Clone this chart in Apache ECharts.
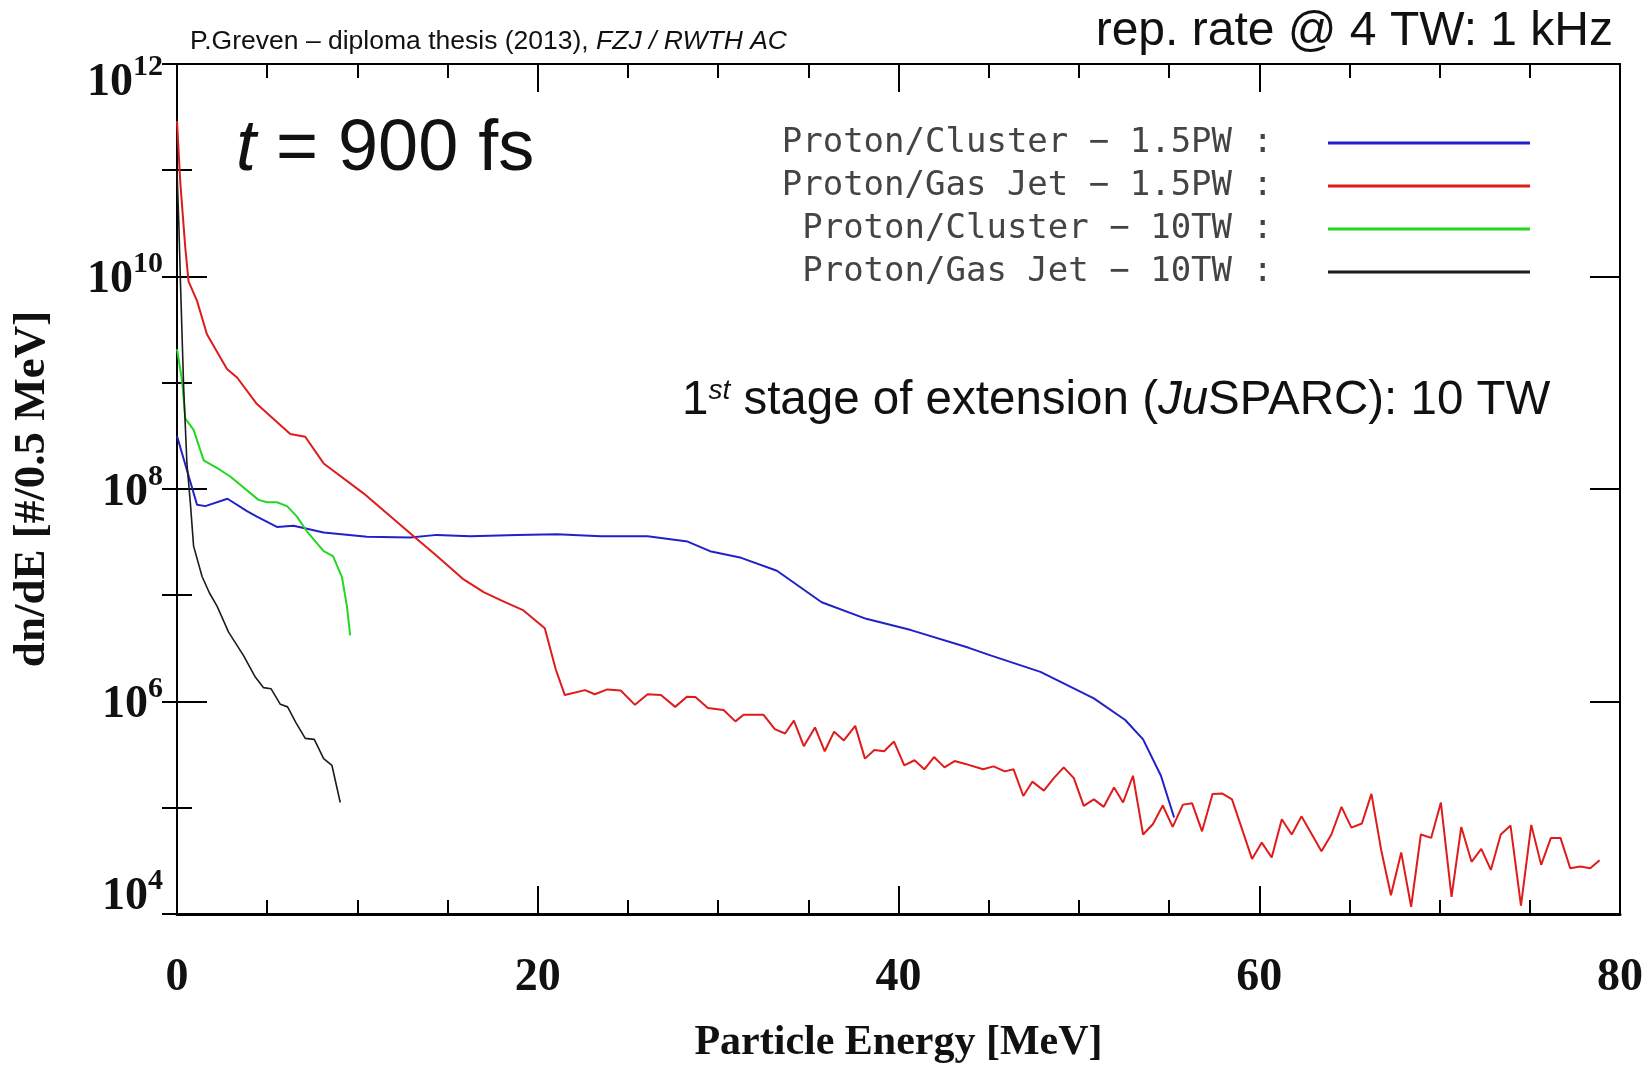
<!DOCTYPE html>
<html>
<head>
<meta charset="utf-8">
<title>Proton spectra, t = 900 fs</title>
<script src="https://cdn.jsdelivr.net/npm/echarts@6/dist/echarts.min.js"></script>
<style>
  html, body { margin: 0; padding: 0; background: #fff; }
  #chart { width: 1651px; height: 1069px; }
</style>
</head>
<body>
<div id="chart"></div>
<script>
// Proton energy spectra dn/dE [#/0.5 MeV] versus particle energy [MeV]

// Proton/Cluster – 1.5PW
const clusterPW_E = [0, 1.11, 1.57, 2.8, 3.88, 4.43, 5.54, 6.46, 8.13, 10.53, 12.93, 14.41, 16.26, 18.85,
  21.06, 23.5, 26.09, 28.31, 29.55, 31.28, 33.26, 35.74, 38.21, 40.69, 43.9, 45.14, 47.87, 50.83, 52.57,
  53.56, 54.55, 55.28];
const clusterPW_N = [3.16e8, 7.1e7, 6.9e7, 8.1e7, 6.2e7, 5.5e7, 4.4e7, 4.5e7, 3.9e7, 3.55e7, 3.5e7, 3.7e7,
  3.6e7, 3.7e7, 3.75e7, 3.6e7, 3.6e7, 3.2e7, 2.6e7, 2.25e7, 1.7e7, 8.6e6, 6.0e6, 4.7e6, 3.2e6, 2.7e6,
  1.9e6, 1.07e6, 6.7e5, 4.4e5, 2.0e5, 8.1e4];

// Proton/Gas Jet – 1.5PW
const gasJetPW_E = [0, 0.18, 0.46, 0.64, 1.11, 1.66, 2.77, 3.33, 4.43, 6.28, 7.11, 8.13, 10.34, 13.12, 14.41,
  15.89, 17.0, 18.0, 19.21, 20.39, 21.0, 21.5, 22.62, 23.16, 23.86, 24.6, 25.39, 26.09, 26.83, 27.62, 28.27,
  28.74, 29.43, 30.3, 30.96, 31.41, 32.52, 33.14, 33.71, 34.2, 34.75, 35.37, 35.91, 36.43, 36.97, 37.6,
  38.14, 38.66, 39.2, 39.75, 40.32, 40.89, 41.43, 41.97, 42.55, 43.11, 43.66, 44.69, 45.27, 45.89, 46.38,
  46.92, 47.42, 48.06, 48.61, 49.16, 49.72, 50.27, 50.83, 51.38, 51.95, 52.45, 53.0, 53.56, 54.1, 54.65,
  55.2, 55.77, 56.28, 56.83, 57.41, 57.96, 58.49, 59.6, 60.14, 60.69, 61.25, 61.8, 62.34, 63.45, 64.0,
  64.56, 65.11, 65.69, 66.22, 66.76, 67.3, 67.87, 68.42, 68.96, 69.53, 70.07, 70.66, 71.2, 71.77, 72.31,
  72.84, 73.39, 73.93, 74.51, 75.08, 75.63, 76.17, 76.7, 77.24, 77.8, 78.35, 78.87];
const gasJetPW_N = [2.9e11, 7.8e10, 1.86e10, 9.0e9, 5.9e9, 2.86e9, 1.35e9, 1.12e9, 6.3e8, 3.3e8, 3.1e8,
  1.74e8, 9.1e7, 3.6e7, 2.34e7, 1.41e7, 1.07e7, 8.9e6, 7.2e6, 4.9e6, 2.0e6, 1.15e6, 1.28e6, 1.17e6, 1.3e6,
  1.27e6, 9.3e5, 1.17e6, 1.15e6, 8.9e5, 1.11e6, 1.1e6, 8.7e5, 8.3e5, 6.5e5, 7.5e5, 7.5e5, 5.5e5, 5.0e5,
  6.6e5, 3.8e5, 5.7e5, 3.4e5, 5.2e5, 4.3e5, 5.9e5, 2.9e5, 3.5e5, 3.4e5, 4.2e5, 2.5e5, 2.8e5, 2.3e5,
  3.0e5, 2.4e5, 2.75e5, 2.6e5, 2.3e5, 2.45e5, 2.2e5, 2.3e5, 1.29e5, 1.76e5, 1.45e5, 1.9e5, 2.4e5, 1.9e5,
  1.04e5, 1.2e5, 1.02e5, 1.55e5, 1.12e5, 2.0e5, 5.6e4, 7.0e4, 1.05e5, 6.6e4, 1.07e5, 1.1e5, 6.0e4,
  1.35e5, 1.36e5, 1.2e5, 3.3e4, 4.7e4, 3.4e4, 7.8e4, 5.6e4, 8.3e4, 3.9e4, 5.6e4, 1.02e5, 6.5e4, 7.1e4,
  1.35e5, 4.0e4, 1.5e4, 3.8e4, 1.17e4, 5.6e4, 5.2e4, 1.12e5, 1.45e4, 6.6e4, 3.1e4, 4.1e4, 2.6e4, 5.6e4,
  6.8e4, 1.2e4, 6.9e4, 2.9e4, 5.2e4, 5.2e4, 2.7e4, 2.8e4, 2.7e4, 3.2e4];

// Proton/Cluster – 10TW
const cluster10_E = [0, 0.28, 0.46, 0.92, 1.48, 2.4, 2.95, 4.52, 4.99, 5.54, 6.1, 6.65, 7.2, 8.13, 8.65,
  9.15, 9.42, 9.6];
const cluster10_N = [2.07e9, 1.05e9, 4.6e8, 3.6e8, 1.86e8, 1.51e8, 1.31e8, 7.9e7, 7.5e7, 7.5e7, 6.9e7,
  5.5e7, 4.0e7, 2.6e7, 2.34e7, 1.47e7, 7.9e6, 4.2e6];

// Proton/Gas Jet – 10TW
const gasJet10_E = [0, 0.1, 0.2, 0.37, 0.55, 0.74, 0.92, 1.39, 1.8, 2.22, 2.86, 3.69, 4.34, 4.8, 5.21,
  5.73, 6.13, 6.6, 7.11, 7.61, 8.13, 8.59, 9.05];
const gasJet10_N = [1.0e11, 3.2e10, 7.9e9, 8.9e8, 1.74e8, 7.4e7, 2.9e7, 1.5e7, 1.05e7, 7.9e6, 4.5e6,
  2.7e6, 1.7e6, 1.35e6, 1.32e6, 9.4e5, 8.9e5, 6.3e5, 4.5e5, 4.4e5, 2.9e5, 2.5e5, 1.12e5];

const seriesNames = ['Proton/Cluster – 1.5PW', 'Proton/Gas Jet – 1.5PW', 'Proton/Cluster – 10TW', 'Proton/Gas Jet – 10TW'];
const legendLabels = ['Proton/Cluster − 1.5PW :', 'Proton/Gas Jet − 1.5PW :', 'Proton/Cluster − 10TW :', 'Proton/Gas Jet − 10TW :'];
const seriesColors = ['#2121c9', '#df1b1b', '#22d822', '#1c1c1c'];

const xMin = 0, xMax = 80, xStep = 20;
const yMin = 1e4, yMax = 1e12;

function pairs(xs, ys) { return xs.map((x, i) => [x, ys[i]]); }

const SERIF = "'Liberation Serif', 'Times New Roman', serif";
const SANS = "'Liberation Sans', Arial, sans-serif";

const tickLabelRich = {
  b:  { fontFamily: SERIF, fontWeight: 'bold', fontSize: 46, color: '#111', padding: [8, 0, 0, 0] },
  s:  { fontFamily: SERIF, fontWeight: 'bold', fontSize: 30, color: '#111', verticalAlign: 'top' },
  bt: { fontFamily: SERIF, fontWeight: 'bold', fontSize: 46, color: '#111', padding: [38, 0, 0, 0] },
  st: { fontFamily: SERIF, fontWeight: 'bold', fontSize: 30, color: '#111', verticalAlign: 'top', padding: [30, 0, 0, 0] },
  bb: { fontFamily: SERIF, fontWeight: 'bold', fontSize: 46, color: '#111', padding: [8, 0, 42, 0] },
  sb: { fontFamily: SERIF, fontWeight: 'bold', fontSize: 30, color: '#111', verticalAlign: 'top' }
};

function powerLabel(v) {
  const e = Math.round(Math.log10(v));
  if (e === 12) return '{bt|10}{st|' + e + '}';
  if (e === 4) return '{bb|10}{sb|' + e + '}';
  return '{b|10}{s|' + e + '}';
}

const frame = { color: '#000', width: 2 };

const chart = echarts.init(document.getElementById('chart'), null, { renderer: 'canvas' });

chart.setOption({
  animation: false,
  backgroundColor: '#fff',
  grid: { left: 177, right: 31, top: 64, bottom: 148, containLabel: false },
  xAxis: [
    {
      type: 'value', position: 'bottom', min: xMin, max: xMax, interval: xStep,
      axisLine: { onZero: false, lineStyle: { color: '#000', width: 3 } },
      axisTick: { inside: true, length: 28, lineStyle: { color: '#000', width: 2 } },
      minorTick: { show: true, splitNumber: 4, length: 14, lineStyle: { color: '#000', width: 2 } },
      splitLine: { show: false },
      axisLabel: { fontFamily: SERIF, fontWeight: 'bold', fontSize: 46, color: '#111', margin: 41 },
      name: 'Particle Energy [MeV]', nameLocation: 'middle', nameGap: 108,
      nameTextStyle: { fontFamily: SERIF, fontWeight: 'bold', fontSize: 42, color: '#111' }
    },
    {
      type: 'value', position: 'top', min: xMin, max: xMax, interval: xStep,
      axisLine: { onZero: false, lineStyle: frame },
      axisTick: { inside: true, length: 28, lineStyle: { color: '#000', width: 2 } },
      minorTick: { show: true, splitNumber: 4, length: 14, lineStyle: { color: '#000', width: 2 } },
      splitLine: { show: false },
      axisLabel: { show: false }
    }
  ],
  yAxis: [
    {
      type: 'log', logBase: 100, position: 'left', min: yMin, max: yMax,
      axisLine: { onZero: false, lineStyle: frame },
      axisTick: { inside: true, length: 30, lineStyle: { color: '#000', width: 2 } },
      splitLine: { show: false },
      axisLabel: { formatter: powerLabel, rich: tickLabelRich, margin: 14 },
      name: 'dn/dE [#/0.5 MeV]', nameLocation: 'middle', nameGap: 122, nameRotate: 90,
      nameTextStyle: { fontFamily: SERIF, fontWeight: 'bold', fontSize: 45, color: '#111' }
    },
    {
      type: 'log', logBase: 10, position: 'left', min: yMin, max: yMax,
      axisLine: { show: false },
      axisTick: { inside: true, length: 15, lineStyle: { color: '#000', width: 2 } },
      splitLine: { show: false },
      axisLabel: { show: false }
    },
    {
      type: 'log', logBase: 100, position: 'right', min: yMin, max: yMax,
      axisLine: { onZero: false, lineStyle: frame },
      axisTick: { inside: true, length: 30, lineStyle: { color: '#000', width: 2 } },
      splitLine: { show: false },
      axisLabel: { show: false }
    },
    {
      type: 'log', logBase: 10, position: 'right', min: yMin, max: yMax,
      axisLine: { show: false },
      axisTick: { inside: true, length: 15, lineStyle: { color: '#000', width: 2 } },
      splitLine: { show: false },
      axisLabel: { show: false }
    }
  ],
  legend: {
    orient: 'vertical', right: 116, top: 121, align: 'right',
    icon: 'rect', itemWidth: 202, itemHeight: 3, itemGap: 9,
    selectedMode: false,
    data: seriesNames,
    formatter: name => legendLabels[seriesNames.indexOf(name)],
    textStyle: { fontFamily: "'DejaVu Sans Mono', monospace", fontSize: 34, color: '#444', padding: [0, 50, 0, 0] }
  },
  series: [
    { name: seriesNames[0], type: 'line', data: pairs(clusterPW_E, clusterPW_N) },
    { name: seriesNames[1], type: 'line', data: pairs(gasJetPW_E, gasJetPW_N) },
    { name: seriesNames[2], type: 'line', data: pairs(cluster10_E, cluster10_N) },
    { name: seriesNames[3], type: 'line', data: pairs(gasJet10_E, gasJet10_N) }
  ].map((s, i) => Object.assign(s, {
    xAxisIndex: 0, yAxisIndex: 0, symbol: 'none', showSymbol: false, smooth: false,
    color: seriesColors[i],
    lineStyle: { color: seriesColors[i], width: i === 3 ? 1.6 : 2 }
  })),
  graphic: [
    {
      type: 'text', left: 190, top: 28,
      style: {
        text: '{n|P.Greven – diploma thesis (2013), }{i|FZJ / RWTH AC}',
        rich: {
          n: { fontFamily: SANS, fontSize: 26.5, fill: '#111' },
          i: { fontFamily: SANS, fontSize: 26.5, fontStyle: 'italic', fill: '#111' }
        }
      }
    },
    {
      type: 'text', right: 38, top: 8,
      style: { text: 'rep. rate @ 4 TW: 1 kHz', fontFamily: SANS, fontSize: 48, fill: '#111' }
    },
    {
      type: 'text', left: 236, top: 114,
      style: {
        text: '{i|t}{n| = 900 fs}',
        rich: {
          i: { fontFamily: SANS, fontSize: 72, fontStyle: 'italic', fill: '#111' },
          n: { fontFamily: SANS, fontSize: 72, fill: '#111' }
        }
      }
    },
    {
      type: 'text', left: 682, top: 377,
      style: {
        text: '{n|1}{sup|st}{n| stage of extension (}{i|Ju}{n|SPARC): 10 TW}',
        rich: {
          n: { fontFamily: SANS, fontSize: 47.5, fill: '#111' },
          sup: { fontFamily: SANS, fontSize: 28, fontStyle: 'italic', fill: '#111', verticalAlign: 'top' },
          i: { fontFamily: SANS, fontSize: 47.5, fontStyle: 'italic', fill: '#111' }
        }
      }
    }
  ]
});
</script>
</body>
</html>
